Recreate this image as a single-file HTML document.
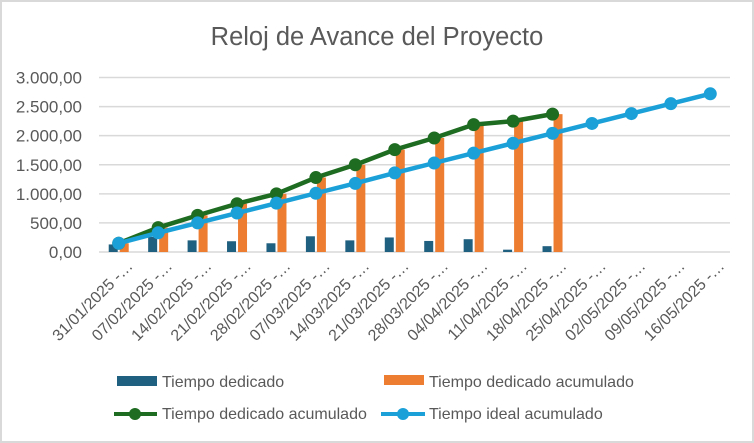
<!DOCTYPE html>
<html><head><meta charset="utf-8">
<style>
html,body{margin:0;padding:0;background:#fff;}
svg{display:block;font-family:"Liberation Sans",sans-serif;}
</style></head>
<body>
<svg id="chart" width="754" height="443" viewBox="0 0 754 443">
<rect x="1" y="1" width="752" height="441" fill="#fff" stroke="#d9d9d9" stroke-width="2"/>
<text x="377" y="45" text-anchor="middle" font-size="25.5" fill="#595959">Reloj de Avance del Proyecto</text>
<g id="grid"></g><g id="yticks"></g><g id="bars"></g><g id="lines"></g><g id="xticks"></g>
<g>
 <rect x="117" y="376" width="40" height="10" fill="#1f5f7f"/>
 <text x="162" y="387" font-size="16" fill="#595959">Tiempo dedicado</text>
 <rect x="384" y="375" width="40" height="10" fill="#ed7d31"/>
 <text x="429" y="387" font-size="16" fill="#595959">Tiempo dedicado acumulado</text>
 <line x1="114" y1="414" x2="157" y2="414" stroke="#1e6b22" stroke-width="4"/>
 <circle cx="135" cy="414" r="6" fill="#1e6b22"/>
 <text x="162" y="419" font-size="16" fill="#595959">Tiempo dedicado acumulado</text>
 <line x1="381" y1="414" x2="425" y2="414" stroke="#1ba1d8" stroke-width="4"/>
 <circle cx="403" cy="414" r="6" fill="#1ba1d8"/>
 <text x="429" y="419" font-size="16" fill="#595959">Tiempo ideal acumulado</text>
</g>
</svg>
<script>
const categories=["31/01/2025 -…","07/02/2025 -…","14/02/2025 -…","21/02/2025 -…","28/02/2025 -…","07/03/2025 -…","14/03/2025 -…","21/03/2025 -…","28/03/2025 -…","04/04/2025 -…","11/04/2025 -…","18/04/2025 -…","25/04/2025 -…","02/05/2025 -…","09/05/2025 -…","16/05/2025 -…"];
const tiempoDedicado=[130,260,200,185,150,270,200,250,190,220,40,100];
const acumulado=[150,420,630,830,1000,1280,1500,1760,1960,2190,2250,2370];
const ideal=[150,330,500,670,840,1010,1180,1360,1530,1700,1870,2040,2210,2380,2550,2720];
const yTicks=[0,500,1000,1500,2000,2500,3000];
const yTickLabels=["0,00","500,00","1.000,00","1.500,00","2.000,00","2.500,00","3.000,00"];
const NS="http://www.w3.org/2000/svg";
const X0=99,X1=730,Y0=252,Y1=77.5,YMAX=3000;
const bw=(X1-X0)/categories.length;
const xc=i=>X0+bw*(i+0.5);
const y=v=>Y0-(v/YMAX)*(Y0-Y1);
function mk(tag,attrs,parent){const e=document.createElementNS(NS,tag);for(const k in attrs)e.setAttribute(k,attrs[k]);document.getElementById(parent).appendChild(e);return e;}
yTicks.forEach((t,i)=>{
 const g=mk("line",{x1:X0,x2:X1,y1:y(t),y2:y(t),stroke:"#d9d9d9","stroke-width":1.5},"grid");
 
 
 const l=mk("text",{x:82,y:y(t)+6,"text-anchor":"end","font-size":17,fill:"#595959"},"yticks");
 l.textContent=yTickLabels[i];
 
 
});
tiempoDedicado.forEach((v,i)=>{
 const r=mk("rect",{x:xc(i)-10,y:y(v),width:9,height:Y0-y(v),fill:"#1f5f7f"},"bars");
 
 
});
acumulado.forEach((v,i)=>{
 const r=mk("rect",{x:xc(i)+1,y:y(v),width:9,height:Y0-y(v),fill:"#ed7d31"},"bars");
 
 
});
function series(arr,color,name){
 const p=mk("polyline",{points:arr.map((v,i)=>xc(i)+","+y(v)).join(" "),fill:"none",stroke:color,"stroke-width":4.5,"stroke-linejoin":"round"},"lines");
 
 
 arr.forEach((v,i)=>{
  const c=mk("circle",{cx:xc(i),cy:y(v),r:6.5,fill:color},"lines");
  
  
 });
}
series(acumulado,"#1e6b22","acumulado");
series(ideal,"#1ba1d8","ideal");
categories.forEach((c,i)=>{
 const t=mk("text",{x:xc(i)+15,y:267,"text-anchor":"end","font-size":16,fill:"#595959",transform:"rotate(-45 "+(xc(i)+15)+" 267)"},"xticks");
 t.textContent=c;
 
 
});
</script>
</body></html>
